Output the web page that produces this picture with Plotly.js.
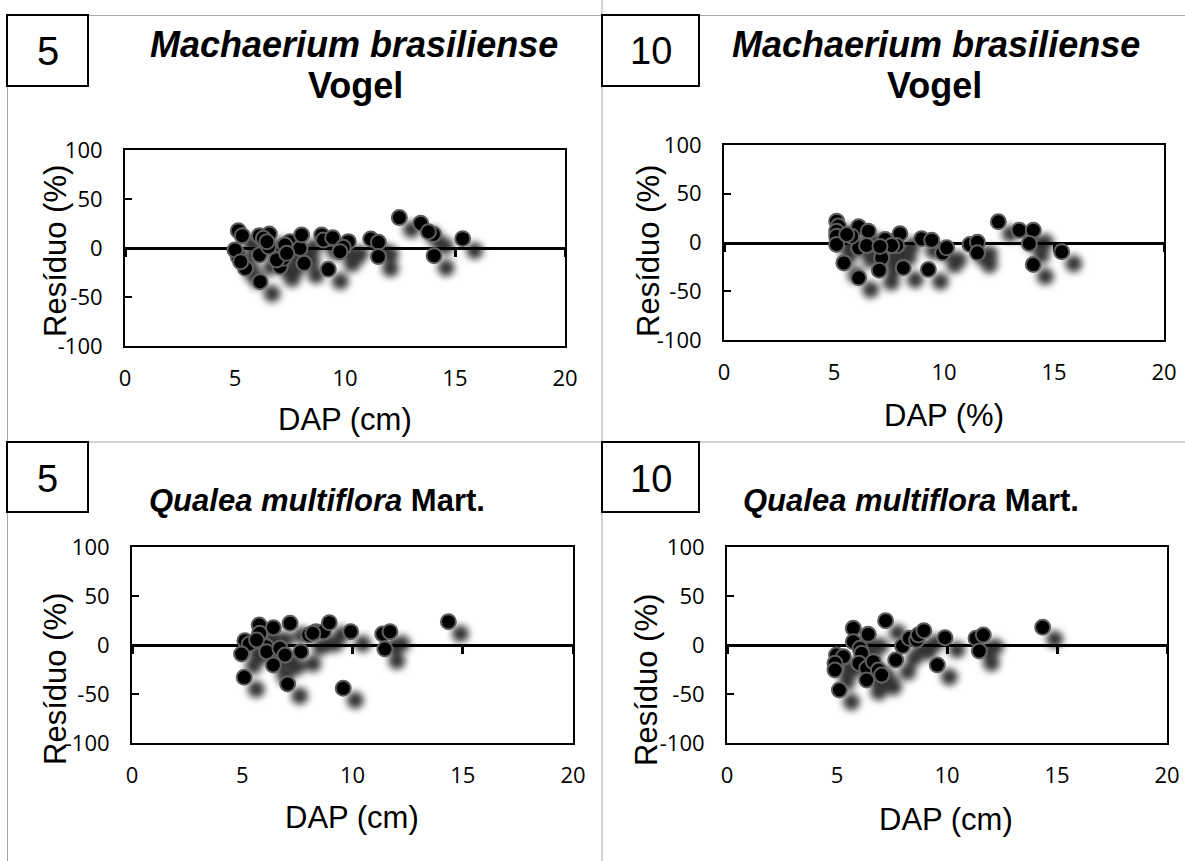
<!DOCTYPE html>
<html>
<head>
<meta charset="utf-8">
<script src="https://cdn.plot.ly/plotly-3.0.1.min.js"></script>
<style>
html,body{margin:0;padding:0;background:#fff;}
#chart{width:1185px;height:861px;}
.js-plotly-plot .scatterlayer .trace .points{filter:url(#shd);}
</style>
</head>
<body>
<svg width="0" height="0" style="position:absolute">
  <defs>
    <filter id="shd" x="-50%" y="-50%" width="200%" height="200%">
      <feDropShadow dx="12" dy="12" stdDeviation="3.5" flood-color="#000" flood-opacity="0.8"/>
    </filter>
  </defs>
</svg>
<div id="chart"></div>
<script>
// ---- data ----
const m5_dap = [5.15,5.33,5.15,5.15,5.48,6.14,6.11,6.11,6.56,6.52,6.29,7.05,7.2,7.5,7.27,7.95,8.03,8.14,8.94,9.02,9.24,9.44,10.15,9.92,9.77,11.17,11.52,11.52,12.47,13.44,14.02,13.79,14.05,15.35,6.89,7.35,6.45,5.0,5.26];
const m5_res = [17.7,12.6,-7.1,-9,-20.7,-34.4,-7.1,12.6,14.3,1.3,9.9,-19,-10.5,6.5,3,-0.3,13.3,-15.6,13.3,8.2,-21.8,10.5,6.5,0.7,-3.7,9.2,5.8,-8.8,31,25.2,14,16.6,-7.8,9.5,-12.2,-5.4,6.4,-2,-14];

const m10_dap = [5.12,5.2,5.12,5.12,5.12,5.45,6.12,6.12,6.12,6.56,6.48,5.8,7.17,7.06,7.47,7.32,8.0,7.85,8.15,8.98,9.44,9.29,9.94,10.12,11.18,11.52,11.52,12.47,13.42,14.06,13.88,14.06,15.35,5.58,7.62,7.09];
const m10_res = [21.9,16.8,11.6,6.5,-2,-20.9,16.1,-5.5,-36.2,11.6,-3.1,6.5,-15.7,-28.4,1.4,3,8.9,-3.1,-26,3.8,2.4,-27.7,-10.6,-5.5,-2,0.3,-10.6,21.2,12.6,12.6,-1,-22.6,-9.6,8.2,-3,-4];

const q5_dap = [5.77,6.41,7.17,5.79,5.12,5.32,4.97,5.09,6.08,6.11,6.41,6.71,6.94,7.06,7.66,8.01,8.34,8.68,8.95,9.58,9.92,11.37,11.70,11.47,14.35,5.65,8.2];
const q5_res = [20.4,17.7,22.1,11.9,4.4,1,-9.2,-33,-1.7,-6.8,-20.4,-3.4,-10.2,-39.8,-6.8,10.2,13.6,13.6,22.8,-44.2,13.6,11.2,13.6,-4.1,23.8,5.1,12];

const q10_dap = [5.74,6.42,7.21,5.74,6.05,6.12,4.98,5.29,4.91,4.91,5.11,6.0,6.35,6.35,6.65,6.88,7.03,7.67,7.98,8.29,8.62,8.70,8.95,9.56,9.91,11.32,11.65,11.47,14.35];
const q10_res = [17,10.9,24.8,3.4,-3.4,-8.5,-10.2,-11.9,-18.7,-25.5,-45.9,-18.7,-23.8,-35.7,-17,-25.5,-30.6,-15.3,-1,6.8,5.1,10.2,14.6,-20.4,7.5,6.8,10.2,-6.1,18];

const xTicks = [0,5,10,15,20];
const yTicks = [-100,-50,0,50,100];
const panelNumbers = ['5','10','5','10'];
const speciesItalic = ['Machaerium brasiliense','Machaerium brasiliense','Qualea multiflora','Qualea multiflora'];
const speciesAuthor = ['Vogel','Vogel','Mart.','Mart.'];
const xTitles = ['DAP (cm)','DAP (%)','DAP (cm)','DAP (cm)'];
const yTitle = 'Resíduo (%)';

// ---- layout geometry (pixels) ----
const W = 1185, H = 861;
const px = p => p / W;
const py = p => 1 - p / H;
const panels = [
  {x0:125, x1:565, y0:150, y1:346, box:[7,15,88,86],   num:[47.5,51,40], t1:[354,44], t2:[355,86], xt:[345,419], yt:[55,251], tsize:36},
  {x0:724, x1:1164,y0:145, y1:340, box:[602,15,699,86],num:[650.5,51,38], t1:[936,44], t2:[934,86], xt:[944,415], yt:[648,251], tsize:36},
  {x0:132, x1:573, y0:547, y1:743, box:[7,442,88,512], num:[47.5,479,38], t1:[317,500], t2:null, xt:[352,817], yt:[55,679], tsize:31},
  {x0:727, x1:1167,y0:547, y1:743, box:[602,442,699,512],num:[650.5,479,38], t1:[911,500], t2:null, xt:[946,819], yt:[646,680], tsize:31}
];
const series = [[m5_dap,m5_res],[m10_dap,m10_res],[q5_dap,q5_res],[q10_dap,q10_res]];

const FONT = 'Liberation Sans, Arial, sans-serif';
const TICKFONT = {family:'Open Sans, sans-serif', size:22, color:'#000'};

const data = [];
const layout = {
  width: W, height: H,
  margin: {l:0, r:0, t:0, b:0},
  paper_bgcolor: '#fff', plot_bgcolor: '#fff',
  showlegend: false,
  annotations: [], shapes: []
};

// gray frame lines
const gray = {color:'#a6a6a6', width:1};
layout.shapes.push({type:'line', xref:'paper', yref:'paper', x0:px(7.5), x1:1, y0:py(15.5), y1:py(15.5), line:gray, layer:'below'});
layout.shapes.push({type:'line', xref:'paper', yref:'paper', x0:px(7.5), x1:1, y0:py(442), y1:py(442), line:gray, layer:'below'});
layout.shapes.push({type:'line', xref:'paper', yref:'paper', x0:px(7.5), x1:px(7.5), y0:py(15.5), y1:0, line:gray, layer:'below'});
layout.shapes.push({type:'line', xref:'paper', yref:'paper', x0:px(602), x1:px(602), y0:1, y1:0, line:gray, layer:'below'});

panels.forEach((p, i) => {
  const k = i + 1, ko = i + 5;
  const xd = [px(p.x0), px(p.x1)];
  const yd = [py(p.y1), py(p.y0)];
  data.push({
    type:'scatter', mode:'markers',
    x: series[i][0], y: series[i][1],
    xaxis: 'x' + k, yaxis: 'y' + k,
    marker: {size:15, color:'#000', line:{color:'#5e5e5e', width:2}},
    hoverinfo: 'x+y'
  });
  layout['xaxis' + k] = {
    domain: xd, anchor: 'y' + k, range: [0, 20],
    tickmode: 'array', tickvals: xTicks, ticktext: xTicks.map(String),
    ticks: '', showline: true, mirror: true, linecolor: '#000', linewidth: 2,
    showgrid: false, zeroline: false, tickfont: TICKFONT, ticklabelstandoff: 12,
    fixedrange: true
  };
  layout['yaxis' + k] = {
    domain: yd, anchor: 'x' + k, range: [-100, 100],
    tickmode: 'array', tickvals: yTicks, ticktext: yTicks.map(String),
    ticks: 'inside', ticklen: 7, tickwidth: 1.5, tickcolor: '#000',
    showline: true, mirror: true, linecolor: '#000', linewidth: 2,
    showgrid: false, zeroline: false, tickfont: TICKFONT, ticklabelstandoff: 16,
    fixedrange: true
  };
  // x axis crossing at y = 0 (line + tick marks, no labels)
  layout['xaxis' + ko] = {
    overlaying: 'x' + k, anchor: 'free', position: (yd[0] + yd[1]) / 2,
    range: [0, 20], tickmode: 'array', tickvals: xTicks,
    ticks: 'outside', ticklen: 7, tickwidth: 2.5, tickcolor: '#000',
    showticklabels: false, showline: true, linecolor: '#000', linewidth: 3,
    showgrid: false, zeroline: false, layer: 'below traces', fixedrange: true
  };
  data.push({type:'scatter', mode:'markers', x:[null], y:[null], xaxis:'x' + ko, yaxis:'y' + k, hoverinfo:'skip', showlegend:false});

  // number box
  layout.shapes.push({type:'rect', xref:'paper', yref:'paper',
    x0:px(p.box[0]), x1:px(p.box[2]), y0:py(p.box[3]), y1:py(p.box[1]),
    line:{color:'#000', width:2}, fillcolor:'#fff', layer:'above'});
  layout.annotations.push({xref:'paper', yref:'paper', x:px(p.num[0]), y:py(p.num[1]),
    xanchor:'center', yanchor:'middle', showarrow:false, text:panelNumbers[i],
    font:{family:FONT, size:p.num[2], color:'#000'}});

  // species title
  if (p.t2) {
    layout.annotations.push({xref:'paper', yref:'paper', x:px(p.t1[0]), y:py(p.t1[1]),
      xanchor:'center', yanchor:'middle', showarrow:false,
      text:'<b><i>' + speciesItalic[i] + '</i></b>',
      font:{family:FONT, size:p.tsize, color:'#000'}});
    layout.annotations.push({xref:'paper', yref:'paper', x:px(p.t2[0]), y:py(p.t2[1]),
      xanchor:'center', yanchor:'middle', showarrow:false,
      text:'<b>' + speciesAuthor[i] + '</b>',
      font:{family:FONT, size:p.tsize, color:'#000'}});
  } else {
    layout.annotations.push({xref:'paper', yref:'paper', x:px(p.t1[0]), y:py(p.t1[1]),
      xanchor:'center', yanchor:'middle', showarrow:false,
      text:'<b><i>' + speciesItalic[i] + '</i> ' + speciesAuthor[i] + '</b>',
      font:{family:FONT, size:p.tsize, color:'#000'}});
  }

  // axis titles
  layout.annotations.push({xref:'paper', yref:'paper', x:px(p.xt[0]), y:py(p.xt[1]),
    xanchor:'center', yanchor:'middle', showarrow:false, text:xTitles[i],
    font:{family:FONT, size:31, color:'#000'}});
  layout.annotations.push({xref:'paper', yref:'paper', x:px(p.yt[0]), y:py(p.yt[1]),
    xanchor:'center', yanchor:'middle', showarrow:false, text:yTitle, textangle:-90,
    font:{family:FONT, size:31, color:'#000'}});
});

Plotly.newPlot('chart', data, layout, {displayModeBar:false});
</script>
</body>
</html>
